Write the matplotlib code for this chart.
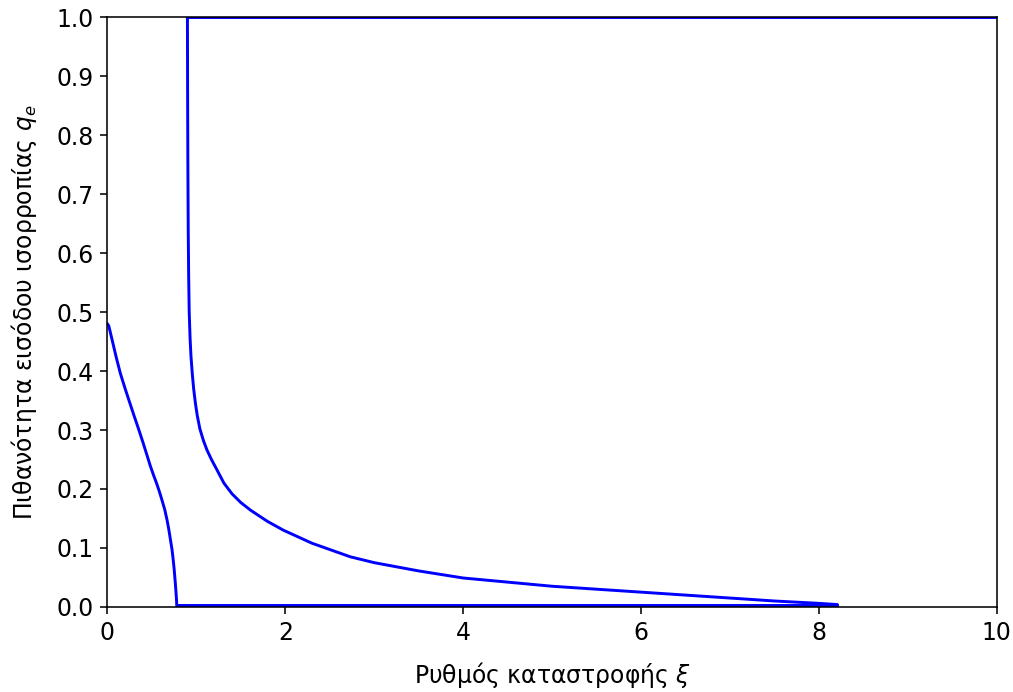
import matplotlib
matplotlib.use("Agg")
import matplotlib.pyplot as plt

# Κλάδος χαμηλής ισορροπίας (ξεκινά από ξ=0)
xi_low = [0.0, 0.015, 0.05, 0.1, 0.146, 0.2, 0.25, 0.296, 0.35, 0.4, 0.45, 0.483, 0.52, 0.55, 0.575, 0.596,
          0.62, 0.645, 0.67, 0.69, 0.71, 0.727, 0.74, 0.752, 0.764, 0.772, 0.778, 0.78]
q_low = [0.48, 0.477, 0.455, 0.423, 0.396, 0.37, 0.347, 0.326, 0.302, 0.279, 0.255, 0.239, 0.223, 0.211, 0.2, 0.19,
         0.178, 0.165, 0.148, 0.132, 0.113, 0.097, 0.08, 0.062, 0.04, 0.024, 0.01, 0.003]

# Μηδενική λύση
xi_zero = [0.78, 8.2]
q_zero = [0.003, 0.003]

# Κλάδος υψηλής ισορροπίας
xi_high = [0.90, 0.902, 0.905, 0.909, 0.914, 0.92, 0.93, 0.94, 0.955, 0.97, 0.99, 1.01, 1.04, 1.08, 1.12, 1.17, 1.23,
           1.31, 1.4, 1.5, 1.61, 1.8, 1.98, 2.3, 2.73, 3.0, 3.5, 4.0, 4.5, 5.0, 5.5, 6.0, 6.5, 7.0, 7.5, 8.0, 8.2]
q_high = [1.0, 0.88, 0.75, 0.64, 0.56, 0.5, 0.455, 0.425, 0.395, 0.37, 0.345, 0.325, 0.302, 0.282, 0.266, 0.25, 0.233,
          0.21, 0.192, 0.177, 0.164, 0.145, 0.13, 0.108, 0.085, 0.075, 0.061, 0.049, 0.042, 0.035, 0.03, 0.025, 0.02,
          0.015, 0.01, 0.006, 0.004]

# Λύση q=1
xi_one = [0.90, 10.0]
q_one = [1.0, 1.0]

plt.rcParams['font.size'] = 12
fig, ax = plt.subplots(figsize=(1013 / 141, 692 / 141), dpi=141)
ax.plot(xi_low, q_low, color='blue', lw=1.5)
ax.plot(xi_zero, q_zero, color='blue', lw=1.5)
ax.plot(xi_high, q_high, color='blue', lw=1.5)
ax.plot(xi_one, q_one, color='blue', lw=1.5)

ax.set_xlim(0, 10)
ax.set_ylim(0, 1)
ax.set_yticks([i / 10 for i in range(11)])
ax.set_xlabel(r'Ρυθμός καταστροφής $\xi$', labelpad=8)
ax.set_ylabel(r'Πιθανότητα εισόδου ισορροπίας $q_e$', labelpad=9)
fig.subplots_adjust(left=0.106, right=0.984, top=0.975, bottom=0.123)
fig.savefig('out.png', dpi=141)
